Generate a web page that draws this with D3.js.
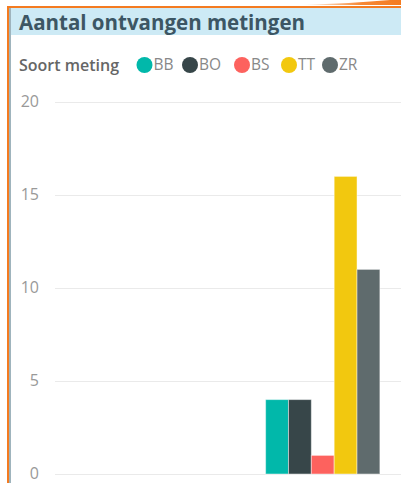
<!DOCTYPE html>
<html>
<head>
<meta charset="utf-8">
<script src="https://cdn.jsdelivr.net/npm/d3@7"></script>
<style>
  body { margin: 0; background: #fff; }
  svg { display: block; font-family: "Open Sans", "Noto Sans", sans-serif; }
</style>
</head>
<body>
<div id="chart"></div>
<script>
// chart data
var categories = ["eerder", "laatst"];
var series = ["BB", "BO", "BS", "TT", "ZR"];
var seriesColors = ["#01B8AA", "#374649", "#FD625E", "#F2C80F", "#5F6B6D"];
var valuesEerder = [0, 0, 0, 0, 0];
var valuesLaatst = [4, 4, 1, 16, 11];
var yTicks = [0, 5, 10, 15, 20];

var svgWidth = 401;
var svgHeight = 483;

var svg = d3.select("#chart")
  .append("svg")
  .attr("width", svgWidth)
  .attr("height", svgHeight);

// orange frame + swoosh
var defs = svg.append("defs");
var grad = defs.append("linearGradient").attr("id", "swoosh")
  .attr("x1", "0").attr("x2", "1").attr("y1", "0").attr("y2", "0");
grad.append("stop").attr("offset", "0").attr("stop-color", "#f47b20").attr("stop-opacity", 0);
grad.append("stop").attr("offset", "0.6").attr("stop-color", "#f47b20").attr("stop-opacity", 0.9);
grad.append("stop").attr("offset", "1").attr("stop-color", "#f47b20").attr("stop-opacity", 1);
svg.append("path")
  .attr("d", "M300,5 Q360,3 401,-1 L401,5 Z")
  .attr("fill", "url(#swoosh)");

svg.append("rect")
  .attr("x", 7).attr("y", 6)
  .attr("width", svgWidth - 7).attr("height", 2)
  .attr("fill", "#f47b20");
svg.append("rect")
  .attr("x", 7).attr("y", 6)
  .attr("width", 2).attr("height", svgHeight - 6)
  .attr("fill", "#f47b20");
svg.append("rect")
  .attr("x", 9).attr("y", 8)
  .attr("width", 2).attr("height", svgHeight - 8)
  .attr("fill", "#9fb4bd");

// title bar
svg.append("rect")
  .attr("x", 11).attr("y", 8)
  .attr("width", svgWidth - 11).attr("height", 27)
  .attr("fill", "#cdeaf5");
svg.append("text")
  .attr("x", 19).attr("y", 30)
  .attr("fill", "#3c5664")
  .style("font-size", "20.5px")
  .style("font-weight", "bold")
  .text("Aantal ontvangen metingen");

// legend
var legend = svg.append("g").attr("transform", "translate(0,65)");
legend.append("text")
  .attr("x", 19).attr("dy", "0.35em")
  .attr("fill", "#666")
  .style("font-size", "16px")
  .style("font-weight", 600)
  .text("Soort meting");
var legendX = [144.5, 190, 242, 289, 330];
var items = legend.selectAll("g.item")
  .data(series)
  .enter()
  .append("g")
  .attr("class", "item")
  .attr("transform", (d, i) => `translate(${legendX[i]},0)`);
items.append("circle")
  .attr("r", 8)
  .attr("fill", (d, i) => seriesColors[i]);
items.append("text")
  .attr("x", 9).attr("dy", "0.35em")
  .attr("fill", "#888")
  .style("font-size", "15.5px")
  .text(d => d);

// scales
var x = d3.scaleBand()
  .domain(categories)
  .range([55, 412])
  .paddingInner(0.36)
  .paddingOuter(0.18);
var xInner = d3.scaleBand()
  .domain(series)
  .range([0, x.bandwidth()]);
var y = d3.scaleLinear()
  .domain([0, 20])
  .range([474, 102]);
var color = d3.scaleOrdinal().domain(series).range(seriesColors);

// y axis with gridlines
var yAxis = svg.append("g")
  .attr("transform", "translate(55,0)")
  .call(d3.axisLeft(y).tickValues(yTicks).tickSize(-(svgWidth - 55)).tickPadding(16));
yAxis.select(".domain").remove();
yAxis.selectAll(".tick line").attr("stroke", "#eaeaea");
yAxis.selectAll(".tick text")
  .attr("fill", "#999")
  .attr("dy", "0.3em")
  .style("font-size", "16px")
  .style("font-family", "'Open Sans', sans-serif");

// bars
var rows = [];
categories.forEach(function (c, ci) {
  var vals = ci === 0 ? valuesEerder : valuesLaatst;
  series.forEach(function (s, si) {
    rows.push({ cat: c, key: s, value: vals[si] });
  });
});

svg.append("g").selectAll("rect")
  .data(rows.filter(d => d.value > 0))
  .enter()
  .append("rect")
  .attr("x", d => x(d.cat) + xInner(d.key))
  .attr("y", d => y(d.value))
  .attr("width", xInner.bandwidth())
  .attr("height", d => y(0) - y(d.value))
  .attr("fill", d => color(d.key))
  .attr("stroke", "rgba(255,255,255,0.45)")
  .attr("stroke-width", 1);
</script>
</body>
</html>
